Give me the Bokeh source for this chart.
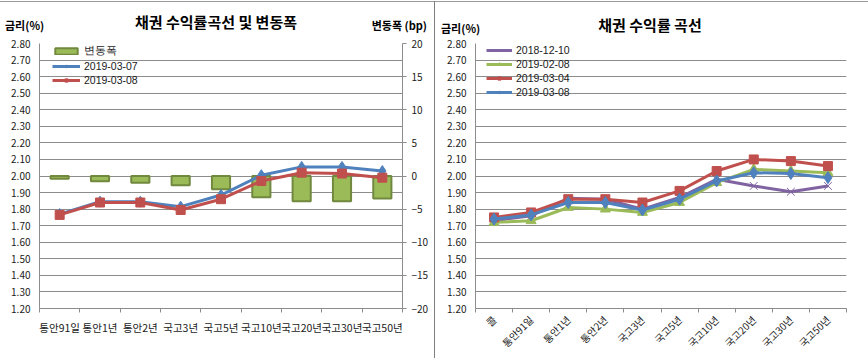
import math
from bokeh.plotting import figure
from bokeh.models import (Range1d, LinearAxis, FixedTicker, NumeralTickFormatter,
                          Legend, LegendItem, Div)
from bokeh.layouts import row, column
from bokeh.embed import file_html
from bokeh.resources import INLINE

FONT = "Noto Sans CJK KR"
NUMFONT = "Liberation Sans"

# ---------------- data: left chart ----------------
curve_categories = ["통안91일", "통안1년", "통안2년", "국고3년", "국고5년",
                    "국고10년", "국고20년", "국고30년", "국고50년"]
yield_2019_03_07 = [1.770, 1.845, 1.845, 1.815, 1.885, 2.005, 2.055, 2.055, 2.030]
yield_2019_03_08 = [1.765, 1.840, 1.840, 1.795, 1.860, 1.970, 2.020, 2.015, 1.990]
change_bp = [-0.4, -0.8, -1.0, -1.4, -2.0, -3.2, -3.8, -3.8, -3.4]

# ---------------- data: right chart ----------------
hist_categories = ["콜", "통안91일", "통안1년", "통안2년", "국고3년", "국고5년",
                   "국고10년", "국고20년", "국고30년", "국고50년"]
yield_2018_12_10 = [1.730, 1.760, 1.865, 1.860, 1.800, 1.870, 1.980, 1.940, 1.905, 1.940]
yield_2019_02_08 = [1.720, 1.730, 1.810, 1.800, 1.780, 1.840, 1.960, 2.040, 2.030, 2.020]
yield_2019_03_04 = [1.750, 1.780, 1.860, 1.860, 1.840, 1.910, 2.030, 2.100, 2.090, 2.060]
yield_2019_03_08_b = [1.740, 1.765, 1.840, 1.840, 1.795, 1.860, 1.970, 2.020, 2.015, 1.990]

rate_ticks = [1.20, 1.30, 1.40, 1.50, 1.60, 1.70, 1.80, 1.90, 2.00,
              2.10, 2.20, 2.30, 2.40, 2.50, 2.60, 2.70, 2.80]
bp_ticks = [-20, -15, -10, -5, 0, 5, 10, 15, 20]

left_title = "채권 수익률곡선 및 변동폭"
right_title = "채권 수익률 곡선"
rate_axis_name = "금리(%)"
bp_axis_name = "변동폭 (bp)"
left_series_names = ["변동폭", "2019-03-07", "2019-03-08"]
right_series_names = ["2018-12-10", "2019-02-08", "2019-03-04", "2019-03-08"]

BLUE = "#4F81BD"
RED = "#C0504D"
GREEN = "#9BBB59"
BAR_LINE = "#71893F"
PURPLE = "#8064A2"
GRID = "#8C8C8C"
TXT = "#1a1a1a"

HEADER_H = 36
FIG_H = 358 - HEADER_H


def style_common(p):
    p.outline_line_color = None
    p.background_fill_color = "white"
    p.border_fill_color = "white"
    p.xgrid.visible = False
    p.ygrid.grid_line_color = GRID
    p.ygrid.grid_line_width = 1
    for ax in p.yaxis:
        ax.axis_line_color = GRID
        ax.major_tick_line_color = GRID
        ax.minor_tick_line_color = None
        ax.major_tick_out = 0
        ax.major_tick_in = 0
        ax.major_label_text_font = FONT
        ax.major_label_text_font_size = "10px"
        ax.major_label_text_color = TXT
        ax.major_label_standoff = 9


def setup_x(p, cats, orientation):
    idx = list(range(len(cats)))
    bounds = [i - 0.5 for i in range(len(cats) + 1)]
    ax = p.xaxis[0]
    ax.ticker = FixedTicker(ticks=idx, minor_ticks=bounds)
    ax.major_label_overrides = {i: c for i, c in zip(idx, cats)}
    ax.axis_line_color = GRID
    ax.major_tick_line_color = None
    ax.major_tick_out = 0
    ax.major_tick_in = 0
    ax.minor_tick_line_color = GRID
    ax.minor_tick_out = 4
    ax.minor_tick_in = 0
    ax.major_label_text_font = FONT
    ax.major_label_text_color = TXT
    ax.major_label_orientation = orientation
    return idx


# ================= left chart =================
p1 = figure(width=431, height=FIG_H, output_backend="svg", toolbar_location=None,
            x_range=Range1d(-0.5, len(curve_categories) - 0.5),
            y_range=Range1d(rate_ticks[0], rate_ticks[-1]),
            min_border_left=39, min_border_right=28,
            min_border_top=7, min_border_bottom=48)
p1.extra_y_ranges = {"bp": Range1d(bp_ticks[0], bp_ticks[-1])}
p1.yaxis[0].ticker = FixedTicker(ticks=rate_ticks)
p1.ygrid.ticker = FixedTicker(ticks=rate_ticks)
p1.yaxis[0].formatter = NumeralTickFormatter(format="0.00")
ax_r = LinearAxis(y_range_name="bp", ticker=FixedTicker(ticks=bp_ticks))
p1.add_layout(ax_r, "right")
style_common(p1)
ax_r.major_tick_out = 4
ax_r.major_label_standoff = 5
x1 = setup_x(p1, curve_categories, "horizontal")
p1.xaxis[0].major_label_text_font_size = "10.5px"
p1.xaxis[0].major_label_standoff = 7

bars = p1.vbar(x=x1, top=change_bp, bottom=0, width=0.45, y_range_name="bp",
               fill_color=GREEN, line_color=BAR_LINE, line_width=2)
l07 = p1.line(x1, yield_2019_03_07, line_color=BLUE, line_width=3)
s07 = p1.scatter(x1, yield_2019_03_07, marker="diamond", size=11,
                 fill_color=BLUE, line_color=BLUE)
l08 = p1.line(x1, yield_2019_03_08, line_color=RED, line_width=3)
s08 = p1.scatter(x1, yield_2019_03_08, marker="square", size=9,
                 fill_color=RED, line_color=RED)

leg1 = Legend(items=[LegendItem(label=left_series_names[0], renderers=[bars]),
                     LegendItem(label=left_series_names[1], renderers=[l07, s07]),
                     LegendItem(label=left_series_names[2], renderers=[l08, s08])],
              location=(13, 222), padding=0, margin=0, spacing=2,
              glyph_width=28, glyph_height=8, label_height=12, label_standoff=4,
              label_text_font=NUMFONT, label_text_font_size="10.5px",
              label_text_color=TXT,
              background_fill_alpha=0, border_line_color=None)
p1.add_layout(leg1)

# ================= right chart =================
p2 = figure(width=433, height=FIG_H, output_backend="svg", toolbar_location=None,
            x_range=Range1d(-0.5, len(hist_categories) - 0.5),
            y_range=Range1d(rate_ticks[0], rate_ticks[-1]),
            min_border_left=40, min_border_right=22,
            min_border_top=7, min_border_bottom=48)
p2.margin = (0, 0, 0, 3)
p2.styles = {"border-left": "1px solid #7f7f7f"}
p2.yaxis[0].ticker = FixedTicker(ticks=rate_ticks)
p2.ygrid.ticker = FixedTicker(ticks=rate_ticks)
p2.yaxis[0].formatter = NumeralTickFormatter(format="0.00")
style_common(p2)
x2 = setup_x(p2, hist_categories, math.pi / 4)
p2.xaxis[0].major_label_text_font_size = "10px"
p2.xaxis[0].major_label_standoff = 5

lp = p2.line(x2, yield_2018_12_10, line_color=PURPLE, line_width=3)
sp = p2.scatter(x2, yield_2018_12_10, marker="x", size=11, line_color=PURPLE,
                line_width=1)
lg = p2.line(x2, yield_2019_02_08, line_color=GREEN, line_width=3)
sg = p2.scatter(x2, yield_2019_02_08, marker="triangle", size=10,
                fill_color=GREEN, line_color=GREEN)
lr = p2.line(x2, yield_2019_03_04, line_color=RED, line_width=3)
sr = p2.scatter(x2, yield_2019_03_04, marker="square", size=9,
                fill_color=RED, line_color=RED)
lb = p2.line(x2, yield_2019_03_08_b, line_color=BLUE, line_width=3)
sb = p2.scatter(x2, yield_2019_03_08_b, marker="diamond", size=12,
                fill_color=BLUE, line_color=BLUE)

leg2 = Legend(items=[LegendItem(label=right_series_names[0], renderers=[lp, sp]),
                     LegendItem(label=right_series_names[1], renderers=[lg, sg]),
                     LegendItem(label=right_series_names[2], renderers=[lr, sr]),
                     LegendItem(label=right_series_names[3], renderers=[lb, sb])],
              location=(11, 210), padding=0, margin=0, spacing=2,
              glyph_width=26, glyph_height=8, label_height=12, label_standoff=4,
              label_text_font=NUMFONT, label_text_font_size="10.5px",
              label_text_color=TXT,
              background_fill_alpha=0, border_line_color=None)
p2.add_layout(leg2)

# ================= header texts =================
def span(x, y, text, size, shift_x):
    return (f'<span style="position:absolute;left:{x}px;top:{y}px;'
            f'transform:translate({shift_x},-50%);font-size:{size}px;'
            f'font-weight:bold;white-space:nowrap;line-height:1.2;">{text}</span>')


header_html = (
    f'<div style="position:relative;width:868px;height:{HEADER_H}px;'
    f"font-family:'{FONT}';color:#000;\">"
    '<div style="position:absolute;left:0;top:1px;width:868px;height:0;'
    'border-top:1px solid #9a9a9a;"></div>'
    '<div style="position:absolute;left:434px;top:1px;width:0;height:36px;'
    'border-left:1px solid #7f7f7f;"></div>'
    + span(216, 22, left_title, 15, "-50%")
    + span(5, 26, rate_axis_name, 11, "0")
    + span(427, 26, bp_axis_name, 11, "-100%")
    + span(650, 25, right_title, 15, "-50%")
    + span(441, 29, rate_axis_name, 11, "0")
    + '</div>'
)
header = Div(text=header_html, width=868, height=HEADER_H, margin=0,
             styles={"overflow": "visible"})

layout = column(header, row(p1, p2, spacing=0), spacing=0)
open("out.html", "w").write(file_html(layout, INLINE))
